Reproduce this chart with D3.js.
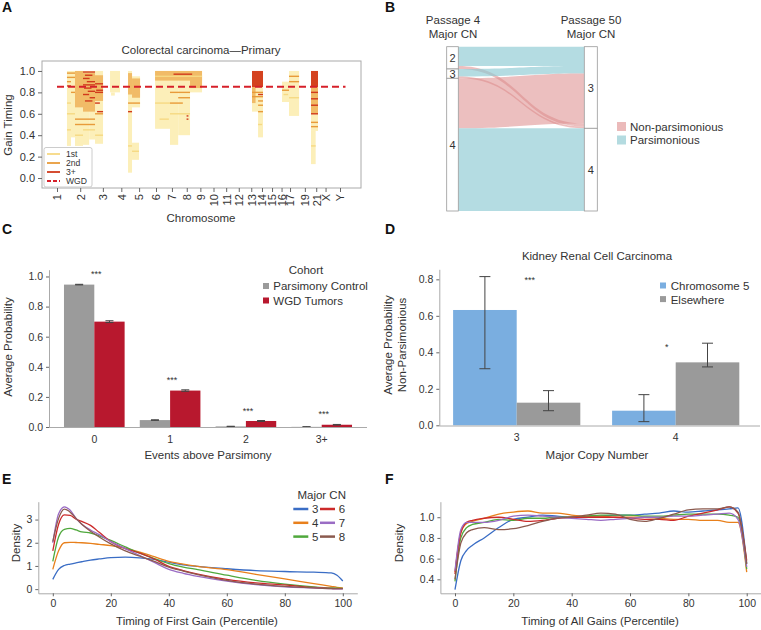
<!DOCTYPE html>
<html>
<head>
<meta charset="utf-8">
<script src="https://cdn.jsdelivr.net/npm/d3@7"></script>
<style>
  body { margin: 0; background: #fff; }
  svg { font-family: "Liberation Sans", Arial, sans-serif; }
</style>
</head>
<body>
<svg id="fig" width="761" height="630"></svg>
<script>
// ---- panel A: gain timing along the genome ----
const chromNames = ["1","2","3","4","5","6","7","8","9","10","11","12","13","14","15","16","17","18","19","20","21","22","X","Y"];
const chromStarts = [0,249,492,690,881,1062,1233,1392,1538,1679,1815,1950,2084,2199,2307,2409,2500,2581,2659,2718,2781,2829,2881,3036];
const chromHidden = ["18","20","22"];
const genomeEnd = 3095;
const wgdTiming = 0.853;
// [startMb, endMb, lowTiming, highTiming, order]
const gainBlocks = [
  [107,150,0.30,1.00,1],[150,193,0.38,1.00,1],[193,279,0.30,1.00,1],[279,345,0.31,1.00,1],
  [345,408,0.36,1.00,1],[408,494,0.32,1.00,1],[569,676,0.80,1.00,1],[580,620,0.77,0.80,1],
  [762,805,0.05,1.00,1],[805,891,0.66,0.95,1],[805,880,0.17,0.33,1],[1052,1212,0.46,1.00,1],
  [1212,1300,0.31,1.00,1],[1300,1427,0.40,1.00,1],[1427,1556,0.80,1.00,1],[2092,2157,0.62,0.85,1],
  [2157,2210,0.38,0.85,1],[2414,2489,0.71,0.90,1],[2489,2597,0.58,1.00,1],[2725,2800,0.44,0.85,1],
  [2725,2775,0.13,0.44,1],
  [193,279,0.66,1.00,2],[279,408,0.62,0.98,2],[408,494,0.72,0.96,2],[805,891,0.75,0.93,2],
  [762,805,0.78,0.98,2],[1052,1556,0.91,1.00,2],[1427,1556,0.84,0.96,2],[2092,2130,0.70,0.85,2],
  [2725,2800,0.60,0.85,2],
  [2092,2210,0.85,1.00,3],[2725,2800,0.85,1.00,3]
];
// [startMb, endMb, timing, order]
const gainStreaks = [
  [107,193,0.98,2],[107,193,0.94,2],[107,150,0.90,2],[107,150,0.86,3],[150,193,0.80,2],
  [107,150,0.70,1],[107,193,0.60,1],[107,150,0.45,1],
  [279,408,0.99,3],[300,380,0.96,3],[279,350,0.93,3],[320,408,0.90,3],[279,408,0.87,3],
  [290,370,0.84,3],[330,408,0.81,3],[279,345,0.78,3],[350,408,0.75,3],[300,380,0.72,3],
  [408,494,0.88,3],[420,494,0.82,3],[408,460,0.70,3],[430,494,0.62,3],[408,494,0.80,3],
  [193,279,0.55,2],[193,279,0.50,2],[279,408,0.55,2],[279,408,0.50,2],[408,494,0.60,2],
  [279,408,0.45,1],[193,279,0.40,1],[408,494,0.40,1],
  [805,891,0.70,2],[762,805,0.70,2],[762,805,0.62,3],[762,805,0.30,1],[805,880,0.25,1],
  [1052,1212,0.70,1],[1212,1427,0.60,1],[1212,1427,0.80,2],[1300,1427,0.75,2],
  [1212,1350,0.70,2],[1390,1410,0.58,3],[1390,1410,0.55,3],[1100,1200,0.55,1],
  [1052,1556,0.95,1],[1250,1450,0.97,3],
  [2092,2210,0.80,2],[2092,2210,0.76,2],[2157,2210,0.72,2],[2157,2210,0.68,2],
  [2157,2210,0.62,2],[2157,2210,0.78,3],[2157,2200,0.50,1],
  [2489,2597,0.95,2],[2489,2597,0.90,2],[2414,2489,0.82,2],[2489,2597,0.75,1],[2430,2480,0.78,1],
  [2725,2800,0.52,2],[2725,2800,0.48,2],[2725,2800,0.80,3],[2725,2800,0.74,3],
  [2725,2800,0.68,3],[2725,2800,0.60,3],[2725,2775,0.30,1]
];
const gainOrders = ["1st","2nd","3+"];

// ---- panel B: alluvial ----
const bLeftStrata = ["2","3","4"];
const bRightStrata = ["3","4"];
const bTypes = ["Non-parsimonious","Parsimonious"];
// [from, to, type, weight]
const bFlows = [
  ["2","3","Parsimonious",19.3],
  ["2","3","Non-parsimonious",3.0],
  ["3","3","Parsimonious",7.5],
  ["3","3","Non-parsimonious",1.8],
  ["4","3","Non-parsimonious",50.0],
  ["4","4","Parsimonious",82.7]
];
const bRightOrder = [0,2,4,1,3,5];

// ---- panel C ----
const cCategories = ["0","1","2","3+"];
const cCohorts = ["Parsimony Control","WGD Tumors"];
const cControl = [0.946,0.046,0.004,0.001];
const cControlErr = [0.002,0.002,0.001,0.001];
const cWgd = [0.700,0.242,0.040,0.015];
const cWgdErr = [0.006,0.005,0.003,0.002];
const cStars = ["***","***","***","***"];

// ---- panel D ----
const dCategories = ["3","4"];
const dGroups = ["Chromosome 5","Elsewhere"];
const dChr5 = [0.632,0.080];
const dChr5Lo = [0.31,0.02];
const dChr5Hi = [0.815,0.168];
const dElse = [0.124,0.345];
const dElseLo = [0.08,0.32];
const dElseHi = [0.19,0.45];
const dStars = ["***","*"];
const dStarLevel = [0.78,0.41];

// ---- panels E, F ----
const cnLabels = ["3","4","5","6","7","8"];
const eX = [0,2,4,6,8,10,13,16,20,25,30,35,40,45,50,60,70,80,90,96,98,100];
const eDensity = [
  [0.42,0.85,1.02,1.08,1.13,1.18,1.25,1.30,1.36,1.38,1.35,1.28,1.16,1.05,0.98,0.88,0.80,0.76,0.73,0.70,0.60,0.35],
  [0.85,1.65,2.00,2.02,2.01,2.00,1.97,1.93,1.88,1.76,1.60,1.40,1.20,1.08,0.98,0.84,0.64,0.44,0.24,0.12,0.08,0.05],
  [1.20,2.25,2.58,2.62,2.55,2.47,2.42,2.30,2.10,1.82,1.55,1.32,1.10,0.95,0.84,0.60,0.38,0.22,0.10,0.05,0.04,0.03],
  [1.65,2.80,3.20,3.18,3.02,2.92,2.75,2.45,2.05,1.75,1.55,1.30,0.98,0.80,0.65,0.42,0.27,0.18,0.07,0.03,0.02,0.02],
  [2.00,3.25,3.55,3.40,3.05,2.80,2.55,2.35,2.05,1.75,1.45,1.15,0.85,0.68,0.55,0.35,0.20,0.10,0.05,0.02,0.01,0.01],
  [2.05,3.05,3.45,3.32,3.05,2.80,2.50,2.25,1.95,1.65,1.42,1.20,0.95,0.78,0.63,0.38,0.22,0.12,0.05,0.02,0.02,0.02]
];
const fX = [0,2,4,6,10,15,20,25,30,35,40,45,50,55,60,65,70,75,80,85,90,94,97,100];
const fDensity = [
  [0.30,0.58,0.68,0.73,0.80,0.90,0.98,1.00,1.02,1.01,1.00,1.00,1.01,1.02,1.02,1.03,1.04,1.06,1.05,1.06,1.07,1.08,1.09,0.55],
  [0.47,0.85,0.94,0.96,0.99,1.03,1.05,1.06,1.04,1.04,1.02,1.01,1.01,1.00,1.00,1.00,0.99,0.98,0.98,0.97,0.97,0.95,0.95,0.47],
  [0.38,0.80,0.90,0.93,0.95,0.98,0.97,0.99,0.99,1.00,1.00,1.01,1.02,1.02,1.02,1.01,1.01,1.02,1.03,1.03,1.03,1.02,1.00,0.50],
  [0.45,0.85,0.95,0.97,0.99,1.00,0.98,0.96,0.97,0.99,1.00,1.00,1.00,1.00,0.99,0.98,0.98,0.97,1.01,1.04,1.07,1.10,1.04,0.58],
  [0.48,0.88,0.95,0.95,0.95,0.97,1.01,1.02,1.01,1.00,0.99,0.98,0.97,0.98,0.99,1.00,1.00,1.01,1.01,1.02,1.03,1.04,0.98,0.52],
  [0.40,0.75,0.85,0.88,0.90,0.88,0.89,0.92,0.96,0.99,1.00,1.02,1.04,1.03,0.98,0.96,0.99,1.03,1.07,1.08,1.08,1.10,1.05,0.55]
];

// ---- shared helpers ----
const svg = d3.select("#fig");
const TXT = "#333";

function styleAxis(g, size) {
  g.attr("font-family", null).attr("font-size", null);
  g.selectAll("text").attr("fill", TXT).style("font-size", size + "px");
  g.selectAll(".tick line").attr("stroke", "#666");
  g.select(".domain").attr("stroke", "#aaa");
}
function label(x, y, txt, size, opts = {}) {
  const t = svg.append("text").attr("x", x).attr("y", y).text(txt)
    .attr("fill", opts.fill || TXT).style("font-size", size + "px")
    .attr("text-anchor", opts.anchor || "middle");
  if (opts.weight) t.style("font-weight", opts.weight);
  if (opts.rotate) t.attr("transform", `rotate(-90,${x},${y})`);
  return t;
}
function panelLetter(x, y, ch) { label(x, y, ch, 14, { anchor: "start", weight: "bold", fill: "#111" }); }

// =============== A ===============
(function () {
  const x = d3.scaleLinear().domain([0, genomeEnd]).range([57, 345.5]);
  const y = d3.scaleLinear().domain([-0.093, 1.093]).range([188, 61]);
  const fill = d3.scaleOrdinal().domain([1, 2, 3]).range(["#fcefb9", "#f1bb67", "#d4421f"]);
  const streak = d3.scaleOrdinal().domain([1, 2, 3]).range(["#f6d983", "#e89b3a", "#d13a1c"]);
  const g = svg.append("g");
  g.selectAll("rect.blk").data(gainBlocks).join("rect").attr("class", "blk")
    .attr("x", d => x(d[0])).attr("width", d => x(d[1]) - x(d[0]))
    .attr("y", d => y(d[3])).attr("height", d => y(d[2]) - y(d[3]))
    .attr("fill", d => fill(d[4]));
  g.selectAll("rect.str").data(gainStreaks).join("rect").attr("class", "str")
    .attr("x", d => x(d[0])).attr("width", d => x(d[1]) - x(d[0]))
    .attr("y", d => y(d[2]) - 0.7).attr("height", 1.4)
    .attr("fill", d => streak(d[3]));
  g.append("line").attr("x1", x(0)).attr("x2", x(genomeEnd))
    .attr("y1", y(wgdTiming)).attr("y2", y(wgdTiming))
    .attr("stroke", "#d6202a").attr("stroke-width", 2).attr("stroke-dasharray", "7,4");
  svg.append("rect").attr("x", 42).attr("y", 61).attr("width", 319).attr("height", 127)
    .attr("fill", "none").attr("stroke", "#aaa");
  const ya = svg.append("g").attr("transform", "translate(42,0)")
    .call(d3.axisLeft(y).tickValues([0, 0.2, 0.4, 0.6, 0.8, 1.0]).tickFormat(d3.format(".1f")).tickSize(4).tickSizeOuter(0));
  ya.select(".domain").remove();
  styleAxis(ya, 11);
  const shown = chromNames.map((c, i) => [c, chromStarts[i]]).filter(d => !chromHidden.includes(d[0]));
  const xa = svg.append("g").attr("transform", "translate(0,188)")
    .call(d3.axisBottom(x).tickValues(shown.map(d => d[1])).tickFormat((v, i) => shown[i][0]).tickSize(4).tickSizeOuter(0));
  xa.select(".domain").remove();
  styleAxis(xa, 11);
  xa.selectAll("text").attr("transform", "rotate(-90)").attr("text-anchor", "end")
    .attr("x", -6).attr("y", 0).attr("dy", "0.35em");
  label(201, 54, "Colorectal carcinoma\u2014Primary", 11.5);
  label(12, 125, "Gain Timing", 11.5, { rotate: true });
  label(201, 222, "Chromosome", 11.5);
  // legend
  const lg = svg.append("g");
  lg.append("rect").attr("x", 44).attr("y", 147.5).attr("width", 48).attr("height", 39.5).attr("rx", 2)
    .attr("fill", "#fff").attr("fill-opacity", 0.85).attr("stroke", "#ccc");
  const items = gainOrders.map((o, i) => ({ name: o, color: streak(i + 1), dash: null }))
    .concat([{ name: "WGD", color: "#d6202a", dash: "4,2" }]);
  items.forEach((it, i) => {
    const yy = 154 + i * 9;
    lg.append("line").attr("x1", 47).attr("x2", 60).attr("y1", yy).attr("y2", yy)
      .attr("stroke", it.color).attr("stroke-width", 1.8).attr("stroke-dasharray", it.dash);
    lg.append("text").attr("x", 66).attr("y", yy + 3).text(it.name).attr("fill", TXT).style("font-size", "8.6px");
  });
  panelLetter(2, 12, "A");
})();

// =============== B ===============
(function () {
  const total = d3.sum(bFlows, d => d[3]);
  const y = d3.scaleLinear().domain([0, total]).range([46.7, 211]);
  const lx0 = 446.7, lx1 = 458.3, rx0 = 584.3, rx1 = 597.3;
  const color = d3.scaleOrdinal().domain(bTypes).range(["#dd8a8a", "#8ccad2"]);
  const solid = d3.scaleOrdinal().domain(bTypes).range(["#ebbaba", "#b4dbe0"]);
  function strata(names, key) {
    let acc = 0;
    return names.map(n => {
      const v = d3.sum(bFlows.filter(f => f[key] === n), f => f[3]);
      const s = { name: n, y0: acc, y1: acc + v }; acc += v; return s;
    });
  }
  const left = strata(bLeftStrata, 0), right = strata(bRightStrata, 1);
  const pos = bFlows.map(() => ({}));
  let acc = 0;
  bLeftStrata.forEach(n => bFlows.forEach((f, i) => { if (f[0] === n) { pos[i].l0 = acc; acc += f[3]; pos[i].l1 = acc; } }));
  acc = 0;
  bRightOrder.forEach(i => { pos[i].r0 = acc; acc += bFlows[i][3]; pos[i].r1 = acc; });
  const mx = (lx1 + rx0) / 2;
  svg.append("g").selectAll("path").data(bFlows).join("path")
    .attr("d", (f, i) => {
      const p = pos[i];
      return `M${lx1},${y(p.l0)} C${mx},${y(p.l0)} ${mx},${y(p.r0)} ${rx0},${y(p.r0)}` +
        ` L${rx0},${y(p.r1)} C${mx},${y(p.r1)} ${mx},${y(p.l1)} ${lx1},${y(p.l1)} Z`;
    })
    .attr("fill", f => color(f[2])).attr("fill-opacity", f => f[2] === "Parsimonious" ? 0.65 : 0.55);
  [[left, lx0, lx1], [right, rx0, rx1]].forEach(([st, a, b]) => {
    const g = svg.append("g");
    g.selectAll("rect").data(st).join("rect")
      .attr("x", a).attr("width", b - a).attr("y", d => y(d.y0)).attr("height", d => y(d.y1) - y(d.y0))
      .attr("fill", "#fff").attr("stroke", "#999").attr("stroke-width", 0.8);
    g.selectAll("text").data(st).join("text")
      .attr("x", (a + b) / 2).attr("y", d => (y(d.y0) + y(d.y1)) / 2 + 4)
      .attr("text-anchor", "middle").attr("fill", TXT).style("font-size", "11px").text(d => d.name);
  });
  label(453, 24, "Passage 4", 11.5);
  label(453, 37.5, "Major CN", 11.5);
  label(591, 24, "Passage 50", 11.5);
  label(591, 37.5, "Major CN", 11.5);
  bTypes.forEach((t, i) => {
    svg.append("rect").attr("x", 617).attr("y", 122 + i * 13.5).attr("width", 9).attr("height", 9).attr("fill", solid(t));
    label(630, 130.5 + i * 13.5, t, 11.5, { anchor: "start" });
  });
  panelLetter(385, 12, "B");
})();

// bar helper for C and D
function errBar(g, cx, lo, hi, y, cap) {
  g.append("line").attr("x1", cx).attr("x2", cx).attr("y1", y(lo)).attr("y2", y(hi)).attr("stroke", "#444").attr("stroke-width", 1);
  [lo, hi].forEach(v => g.append("line").attr("x1", cx - cap / 2).attr("x2", cx + cap / 2)
    .attr("y1", y(v)).attr("y2", y(v)).attr("stroke", "#444").attr("stroke-width", 1));
}

// =============== C ===============
(function () {
  const x0 = d3.scaleBand().domain(cCategories).range([56.4, 359.6]);
  const x1 = d3.scaleBand().domain(cCohorts).range([0.1 * x0.bandwidth(), 0.9 * x0.bandwidth()]);
  const y = d3.scaleLinear().domain([0, 1.045]).range([427, 269.7]);
  const color = d3.scaleOrdinal().domain(cCohorts).range(["#9b9b9b", "#b8182e"]);
  const vals = { "Parsimony Control": [cControl, cControlErr], "WGD Tumors": [cWgd, cWgdErr] };
  const g = svg.append("g");
  cCohorts.forEach(c => {
    const [v, e] = vals[c];
    cCategories.forEach((k, i) => {
      const bx = x0(k) + x1(c);
      g.append("rect").attr("x", bx).attr("width", x1.bandwidth()).attr("y", y(v[i]))
        .attr("height", y(0) - y(v[i])).attr("fill", color(c));
      errBar(g, bx + x1.bandwidth() / 2, v[i] - e[i], v[i] + e[i], y, 8);
    });
  });
  cCategories.forEach((k, i) => {
    const top = Math.max(cControl[i] + cControlErr[i], cWgd[i] + cWgdErr[i]);
    label(x0(k) + x0.bandwidth() / 2 + 2, y(top) - 7, cStars[i], 9);
  });
  const ya = svg.append("g").attr("transform", "translate(49,0)")
    .call(d3.axisLeft(y).tickValues([0, 0.2, 0.4, 0.6, 0.8, 1.0]).tickFormat(d3.format(".1f")).tickSize(3).tickSizeOuter(0));
  styleAxis(ya, 10.5);
  const xa = svg.append("g").attr("transform", "translate(0,427.5)")
    .call(d3.axisBottom(x0).tickSize(0).tickPadding(8).tickSizeOuter(0));
  xa.select(".domain").attr("d", "M49,0H367");
  styleAxis(xa, 10.5);
  label(12, 347, "Average Probability", 11.5, { rotate: true });
  label(208, 459, "Events above Parsimony", 11.5);
  label(306, 274, "Cohort", 11.5);
  cCohorts.forEach((c, i) => {
    svg.append("rect").attr("x", 263).attr("y", 283 + i * 14.5).attr("width", 6).attr("height", 6).attr("fill", color(c));
    label(273.3, 290 + i * 14.5, c, 11.5, { anchor: "start" });
  });
  panelLetter(2, 234, "C");
})();

// =============== D ===============
(function () {
  const x0 = d3.scaleBand().domain(dCategories).range([437.2, 755.2]);
  const x1 = d3.scaleBand().domain(dGroups).range([0.1 * x0.bandwidth(), 0.9 * x0.bandwidth()]);
  const y = d3.scaleLinear().domain([0, 0.855]).range([425.3, 269.3]);
  const color = d3.scaleOrdinal().domain(dGroups).range(["#7aaee0", "#9a9a9a"]);
  const vals = { "Chromosome 5": [dChr5, dChr5Lo, dChr5Hi], "Elsewhere": [dElse, dElseLo, dElseHi] };
  const g = svg.append("g");
  dGroups.forEach(grp => {
    const [v] = vals[grp];
    dCategories.forEach((k, i) => {
      const bx = x0(k) + x1(grp);
      g.append("rect").attr("x", bx).attr("width", x1.bandwidth()).attr("y", y(v[i]))
        .attr("height", y(0) - y(v[i])).attr("fill", color(grp));
    });
  });
  dGroups.forEach(grp => {
    const [, lo, hi] = vals[grp];
    dCategories.forEach((k, i) => errBar(g, x0(k) + x1(grp) + x1.bandwidth() / 2, lo[i], hi[i], y, 11));
  });
  dCategories.forEach((k, i) => label(x0(k) + x0.bandwidth() / 2 + (i === 0 ? 13 : -9), y(dStarLevel[i]), dStars[i], 9));
  const ya = svg.append("g").attr("transform", "translate(439.3,0)")
    .call(d3.axisLeft(y).tickValues([0, 0.2, 0.4, 0.6, 0.8]).tickFormat(d3.format(".1f")).tickSize(3).tickSizeOuter(0));
  styleAxis(ya, 10.5);
  const xa = svg.append("g").attr("transform", "translate(0,426)")
    .call(d3.axisBottom(x0).tickSize(0).tickPadding(8).tickSizeOuter(0));
  xa.select(".domain").attr("d", "M439.3,0H760");
  styleAxis(xa, 10.5);
  label(597, 260, "Kidney Renal Cell Carcinoma", 11.5);
  label(392, 345, "Average Probability", 11.5, { rotate: true });
  label(406, 345, "Non-Parsimonious", 11.5, { rotate: true });
  label(597, 459, "Major Copy Number", 11.5);
  dGroups.forEach((grp, i) => {
    svg.append("rect").attr("x", 660).attr("y", 282.5 + i * 13.6).attr("width", 6).attr("height", 6).attr("fill", color(grp));
    label(670.7, 290 + i * 13.6, grp, 11.5, { anchor: "start" });
  });
  panelLetter(385, 234, "D");
})();

// =============== E, F ===============
const cnColor = d3.scaleOrdinal().domain(cnLabels).range(["#3a6dc5", "#e8801c", "#4fa83c", "#cc2a2a", "#9a6cc4", "#8b5a4e"]);
function densityPanel(xs, series, xRange, yDomain, yTicks, yFmt, axisX, xLabel, letterX) {
  const x = d3.scaleLinear().domain([-5, 105]).range(xRange);
  const y = d3.scaleLinear().domain(yDomain).range([593.3, 501.7]);
  const line = d3.line().x((d, i) => x(xs[i])).y(d => y(d)).curve(d3.curveMonotoneX);
  svg.append("g").selectAll("path").data(series).join("path")
    .attr("d", d => line(d)).attr("fill", "none")
    .attr("stroke", (d, i) => cnColor(cnLabels[i])).attr("stroke-width", 1.3);
  const ya = svg.append("g").attr("transform", `translate(${xRange[0]},0)`)
    .call(d3.axisLeft(y).tickValues(yTicks).tickFormat(yFmt).tickSize(3).tickSizeOuter(0));
  styleAxis(ya, 10.5);
  const xa = svg.append("g").attr("transform", "translate(0,593.3)")
    .call(d3.axisBottom(x).tickValues([0, 20, 40, 60, 80, 100]).tickSize(3).tickSizeOuter(0));
  styleAxis(xa, 10.5);
  label(axisX, 625, xLabel, 11.5);
  label(letterX + 18, 543, "Density", 11.5, { rotate: true });
}
densityPanel(eX, eDensity, [38.3, 357.3], [-0.18, 3.77], [0, 1, 2, 3], d3.format("d"), 197, "Timing of First Gain (Percentile)", 2);
densityPanel(fX, fDensity, [440.4, 761.3], [0.265, 1.15], [0.4, 0.6, 0.8, 1.0], d3.format(".1f"), 600, "Timing of All Gains (Percentile)", 385);
panelLetter(2, 484, "E");
panelLetter(385, 484, "F");
// E legend
label(321.7, 499, "Major CN", 11.5);
cnLabels.forEach((c, i) => {
  const col = Math.floor(i / 3), row = i % 3;
  const lx = 293.3 + col * 26.7, ly = 509 + row * 13.8;
  svg.append("line").attr("x1", lx).attr("x2", lx + 15).attr("y1", ly).attr("y2", ly)
    .attr("stroke", cnColor(c)).attr("stroke-width", 2.5);
  label(lx + 22, ly + 4, c, 11.5);
});
</script>
</body>
</html>
